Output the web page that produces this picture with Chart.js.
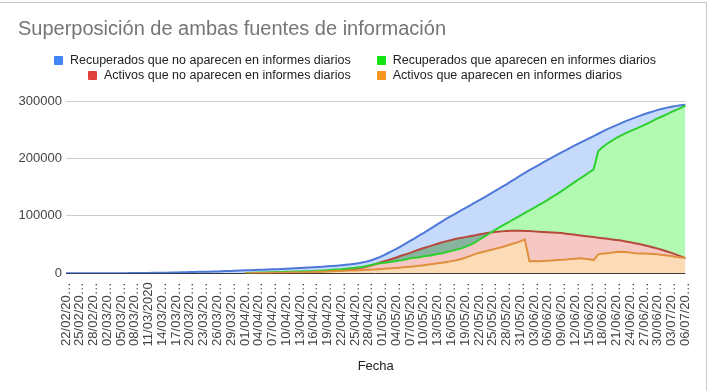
<!DOCTYPE html>
<html lang="es">
<head>
  <meta charset="UTF-8" />
  <title>Superposición de ambas fuentes de información</title>
  <script src="https://cdn.jsdelivr.net/npm/chart.js"></script>
  <style>
    body { margin: 0; background: #fff; font-family: "Liberation Sans", Arial, sans-serif; }
    #wrap { position: relative; width: 710px; height: 391px; overflow: hidden; }
    #frame { position: absolute; left: -1px; top: 2px; width: 707px; height: 400px; border-top: 1px solid #c8c8c8; border-right: 1px solid #c8c8c8; }
    canvas { position: absolute; left: 0; top: 0; }
    #legend { position: absolute; left: 0; top: 53px; width: 710px; font-size: 12.5px; color: #222; }
    .row { text-align: center; height: 15px; line-height: 15px; white-space: nowrap; }
    .item { display: inline-block; margin: 0 13px; }
    .box { display: inline-block; width: 9px; height: 9px; margin-right: 7px; vertical-align: -1px; border-radius: 1px; }
  </style>
</head>
<body>
  <div id="wrap">
    <div id="frame"></div>
    <canvas id="chart" width="710" height="391"></canvas>
    <div id="legend"></div>
  </div>

  <script>
    const fechas = [
      '22/02/2020','23/02/2020','24/02/2020','25/02/2020','26/02/2020','27/02/2020','28/02/2020','29/02/2020',
      '01/03/2020','02/03/2020','03/03/2020','04/03/2020','05/03/2020','06/03/2020','07/03/2020','08/03/2020','09/03/2020','10/03/2020',
      '11/03/2020','12/03/2020','13/03/2020','14/03/2020','15/03/2020','16/03/2020','17/03/2020','18/03/2020','19/03/2020','20/03/2020',
      '21/03/2020','22/03/2020','23/03/2020','24/03/2020','25/03/2020','26/03/2020','27/03/2020','28/03/2020','29/03/2020','30/03/2020','31/03/2020',
      '01/04/2020','02/04/2020','03/04/2020','04/04/2020','05/04/2020','06/04/2020','07/04/2020','08/04/2020','09/04/2020','10/04/2020',
      '11/04/2020','12/04/2020','13/04/2020','14/04/2020','15/04/2020','16/04/2020','17/04/2020','18/04/2020','19/04/2020','20/04/2020',
      '21/04/2020','22/04/2020','23/04/2020','24/04/2020','25/04/2020','26/04/2020','27/04/2020','28/04/2020','29/04/2020','30/04/2020',
      '01/05/2020','02/05/2020','03/05/2020','04/05/2020','05/05/2020','06/05/2020','07/05/2020','08/05/2020','09/05/2020','10/05/2020',
      '11/05/2020','12/05/2020','13/05/2020','14/05/2020','15/05/2020','16/05/2020','17/05/2020','18/05/2020','19/05/2020','20/05/2020',
      '21/05/2020','22/05/2020','23/05/2020','24/05/2020','25/05/2020','26/05/2020','27/05/2020','28/05/2020','29/05/2020','30/05/2020','31/05/2020',
      '01/06/2020','02/06/2020','03/06/2020','04/06/2020','05/06/2020','06/06/2020','07/06/2020','08/06/2020','09/06/2020','10/06/2020',
      '11/06/2020','12/06/2020','13/06/2020','14/06/2020','15/06/2020','16/06/2020','17/06/2020','18/06/2020','19/06/2020','20/06/2020',
      '21/06/2020','22/06/2020','23/06/2020','24/06/2020','25/06/2020','26/06/2020','27/06/2020','28/06/2020','29/06/2020','30/06/2020',
      '01/07/2020','02/07/2020','03/07/2020','04/07/2020','05/07/2020','06/07/2020'
    ];

    // etiquetas visibles del eje x (una cada 3 días, recortadas como en la hoja)
    const etiquetas = [
      '22/02/20…','25/02/20…','28/02/20…','02/03/20…','05/03/20…','08/03/20…','11/03/2020','14/03/20…',
      '17/03/20…','20/03/20…','23/03/20…','26/03/20…','29/03/20…','01/04/20…','04/04/20…','07/04/20…',
      '10/04/20…','13/04/20…','16/04/20…','19/04/20…','22/04/20…','25/04/20…','28/04/20…','01/05/20…',
      '04/05/20…','07/05/20…','10/05/20…','13/05/20…','16/05/20…','19/05/20…','22/05/20…','25/05/20…',
      '28/05/20…','31/05/20…','03/06/20…','06/06/20…','09/06/20…','12/06/20…','15/06/20…','18/06/20…',
      '21/06/20…','24/06/20…','27/06/20…','30/06/20…','03/07/20…','06/07/20…'
    ];

    const recNoInforme = [
      0,0,0,0,0,0,100,100,100,200,
      200,200,300,300,400,500,500,600,700,800,
      900,1000,1100,1300,1500,1700,1900,2100,2300,2500,
      2700,2900,3100,3300,3600,3900,4200,4500,4800,5100,
      5400,5700,6000,6300,6600,6900,7200,7600,8000,8400,
      8800,9200,9600,10000,10500,11000,11500,12100,12700,13300,
      14000,14800,15700,16800,18000,19500,21500,24000,27000,30500,
      34500,38500,42500,47000,51500,56500,61000,66000,70500,75500,
      80500,85500,90500,95500,100000,104500,109000,113500,118000,122500,
      127000,131500,136000,141000,145500,150500,155000,160000,165000,170000,
      175000,179500,184000,188500,193000,197500,202000,206000,210500,214500,
      219000,223000,227000,231000,235000,239000,243000,247000,251000,254500,
      258000,261500,265000,268000,271000,274000,277000,279500,282000,284500,
      286500,288500,290000,291500,292500,293500
    ];

    const recInforme = [
      null,null,null,null,null,null,null,null,null,null,
      null,null,null,null,null,null,null,null,null,null,
      null,null,null,null,null,null,null,null,null,null,
      null,null,null,null,null,null,null,null,null,500,
      700,1000,1200,1400,1600,2000,2200,2400,2600,2800,
      3000,3200,3400,3700,4000,4500,5000,5500,6000,6500,
      7000,7800,8600,9500,10700,12000,13500,15500,17000,18000,
      19000,20000,21500,22500,24000,26000,27000,28000,29500,30500,
      32000,33500,35000,37000,39000,41000,43000,46000,49000,53000,
      58000,63000,68000,73000,78000,82500,87000,91500,96000,100500,
      105000,109500,114000,118500,123000,128000,133000,138000,143000,148500,
      154000,159500,165000,170000,175500,181000,213000,220000,226000,231000,
      236000,240000,244000,247500,251000,254500,258000,262000,266000,270000,
      273500,277000,281000,284500,288000,292000
    ];

    const actNoInforme = [
      null,null,null,null,null,null,null,null,null,null,
      null,null,null,null,null,null,null,null,null,null,
      null,null,null,null,null,null,null,null,null,null,
      null,null,null,null,null,null,null,null,null,300,
      400,500,600,700,800,900,1000,1100,1300,1500,
      1700,1900,2100,2400,2700,3000,3400,3800,4200,4600,
      5000,5800,6700,7600,9000,10500,12500,15000,17500,20000,
      22500,25000,27500,30500,33000,35500,38500,41500,44000,46500,
      49000,51500,54000,56000,58000,60000,61500,63000,64500,66000,
      67500,69000,70500,71500,72500,73000,73500,74000,74000,74000,
      73500,73500,73000,72500,72000,71500,71000,70500,70000,69000,
      68000,67000,66000,65000,64000,63000,62000,61000,60000,59000,
      58000,57000,55500,54000,52500,51000,49000,47000,45000,43000,
      40500,38000,35500,32500,29500,26500
    ];

    const actInforme = [
      null,null,null,null,null,null,null,null,null,null,
      null,null,null,null,null,null,null,null,null,null,
      null,null,null,null,null,null,null,null,null,null,
      null,null,null,null,null,null,null,null,null,200,
      300,400,500,600,700,800,900,1000,1100,1200,
      1400,1600,1800,2000,2300,2600,2900,3200,3500,3800,
      4100,4400,4700,5000,5400,5800,6200,6700,7200,7700,
      8200,8800,9400,10000,10800,11600,12400,13300,14200,15200,
      16200,17300,18500,19800,21200,22700,24500,27000,30000,33000,
      35500,37500,39500,41500,43500,45500,48000,50500,53000,55500,
      59000,21000,21500,21000,21500,22000,22500,23000,23500,24000,
      25000,25500,26000,25500,24500,23000,33000,34500,35000,36000,
      37000,37500,37000,36000,35000,34500,34500,34000,33500,33000,
      32000,31000,30000,28500,27500,26500
    ];

    const FONT = '"Liberation Sans", Arial, sans-serif';
    Chart.defaults.font.family = FONT;

    const chart = new Chart(document.getElementById('chart'), {
      type: 'line',
      data: {
        labels: fechas,
        datasets: [
          { label: 'Recuperados que no aparecen en informes diarios', data: recNoInforme, legendColor: '#4285f4',
            borderColor: '#4d78d8', backgroundColor: '#c6dafc', fill: 'origin', order: 4 },
          { label: 'Recuperados que aparecen en informes diarios', data: recInforme, legendColor: '#12e312',
            borderColor: '#2fcf2f', fill: { target: 2, above: '#b2f9b2', below: '#86b49e' }, order: 2 },
          { label: 'Activos que no aparecen en informes diarios', data: actNoInforme, legendColor: '#e2413a',
            borderColor: '#b5493c', backgroundColor: '#f5c8c3', fill: 'origin', order: 3 },
          { label: 'Activos que aparecen en informes diarios', data: actInforme, legendColor: '#f6951f',
            borderColor: '#e0903c', backgroundColor: '#fcdcb6', fill: 'origin', order: 1 }
        ]
      },
      options: {
        responsive: false,
        animation: false,
        elements: { point: { radius: 0 }, line: { borderWidth: 2, tension: 0 } },
        layout: { padding: { left: 18, right: 20, top: 0, bottom: 0 } },
        plugins: {
          legend: { display: false },
          tooltip: { enabled: false },
          filler: { drawTime: 'beforeDatasetsDraw' },
          title: {
            display: true,
            text: 'Superposición de ambas fuentes de información',
            align: 'start',
            color: '#757575',
            font: { size: 20, weight: 'normal' },
            padding: { top: 17, bottom: 60 }
          }
        },
        scales: {
          x: {
            grid: { display: false, drawTicks: false },
            border: { display: false },
            ticks: {
              autoSkip: false, minRotation: 90, maxRotation: 90, padding: 9,
              color: '#444', font: { size: 13 },
              callback: (v, i) => (i % 3 === 0 ? etiquetas[i / 3] : '')
            },
            title: { display: true, text: 'Fecha', color: '#222', font: { size: 13 }, padding: { top: 0, bottom: 17 } },
            afterFit: axis => { axis.height = 117.7; }
          },
          y: {
            min: 0, max: 300000,
            ticks: { stepSize: 100000, padding: 4, color: '#444', font: { size: 13 }, callback: v => String(v) },
            grid: { color: c => (c.tick.value === 0 ? '#333' : '#cccccc'), drawTicks: false },
            border: { display: false },
            afterFit: axis => { axis.width = 48; }
          }
        }
      }
    });

    // leyenda en dos filas, como en la hoja de cálculo
    const legend = document.getElementById('legend');
    [[0, 1], [2, 3]].forEach(rowIdx => {
      const row = document.createElement('div');
      row.className = 'row';
      rowIdx.forEach(i => {
        const ds = chart.data.datasets[i];
        const item = document.createElement('span');
        item.className = 'item';
        item.innerHTML = '<span class="box" style="background:' + ds.legendColor + '"></span>' + ds.label;
        row.appendChild(item);
      });
      legend.appendChild(row);
    });
  </script>
</body>
</html>
